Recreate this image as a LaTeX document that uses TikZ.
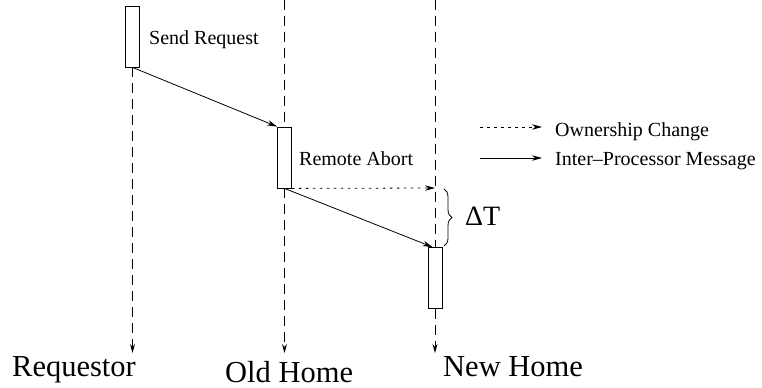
\documentclass[tikz,border=0pt]{standalone}
\usepackage{fontspec}
\setmainfont{Liberation Serif}
\newfontfamily\tms{Liberation Serif}
\usetikzlibrary{arrows.meta,decorations.pathreplacing}
\begin{document}
\begin{tikzpicture}[x=1bp,y=-1bp,
  act/.style={draw, line width=0.8bp, minimum width=14bp, inner sep=0, fill=white},
  life/.style={draw, line width=0.8bp, dash pattern=on 10bp off 6bp},
  lifeend/.style={life, -{Stealth[length=9bp,width=5bp]}},
  msg/.style={draw, line width=0.8bp, -{Stealth[length=10bp,width=5.5bp]}},
  own/.style={msg, dash pattern=on 2.5bp off 4.5bp},
  big/.style={font=\tms\fontsize{30.5bp}{34bp}\selectfont, inner sep=0, anchor=base west},
  small/.style={font=\tms\fontsize{20bp}{24bp}\selectfont, inner sep=0, anchor=base west}]
\useasboundingbox (0,0) rectangle (762,387);
% coordinates
\coordinate (ohtop) at (284.5,0);
\coordinate (nhtop) at (435,0);
\coordinate (rqend) at (132.5,353);
\coordinate (ohend) at (284.5,353);
\coordinate (nhend) at (435,353);
\coordinate (nhdot) at (435,188);
\coordinate (brtop) at (444,189);
\coordinate (brbot) at (444,246);
\coordinate (lg1a) at (480,127);
\coordinate (lg1b) at (542,127);
\coordinate (lg2a) at (480,158);
\coordinate (lg2b) at (542,158);
% lifelines
\draw[life] (ohtop) -- (284.5,127);
\draw[life] (nhtop) -- (435,248);
% activation boxes
\node[act, minimum height=61bp] (rq) at (132.5,36.5) {};
\node[act, minimum height=61bp] (oh) at (284.5,157.5) {};
\node[act, minimum height=61bp] (nh) at (435,278) {};
\draw[lifeend] (rq.south) -- (rqend);
\draw[lifeend] (oh.south) -- (ohend);
\draw[lifeend] (nh.south) -- (nhend);
% messages
\draw[msg] (rq.south) -- (oh.north west);
\draw[msg] (oh.south) -- ([xshift=5bp]nh.north west);
\draw[own] (oh.south east) -- (nhdot);
% brace
\draw[line width=0.8bp, decorate, decoration={brace, amplitude=8bp}] (brtop) -- (brbot);
\node[font=\tms\fontsize{28bp}{32bp}\selectfont, inner sep=0, anchor=base west] (dt) at (465,225) {ΔT};
% labels
\node[small] (sr) at (149,44.5) {Send Request};
\node[small] (ra) at (299,165) {Remote Abort};
\node[big] (lrq) at (12,376.5) {Requestor};
\node[big] (loh) at (225,382.5) {Old Home};
\node[big] (lnh) at (443,376) {New Home};
% legend
\draw[own] (lg1a) -- (lg1b);
\draw[msg] (lg2a) -- (lg2b);
\node[small] (l1) at (555,136.5) {Ownership Change};
\node[small] (l2) at (555,165) {Inter–Processor Message};
\end{tikzpicture}
\end{document}
